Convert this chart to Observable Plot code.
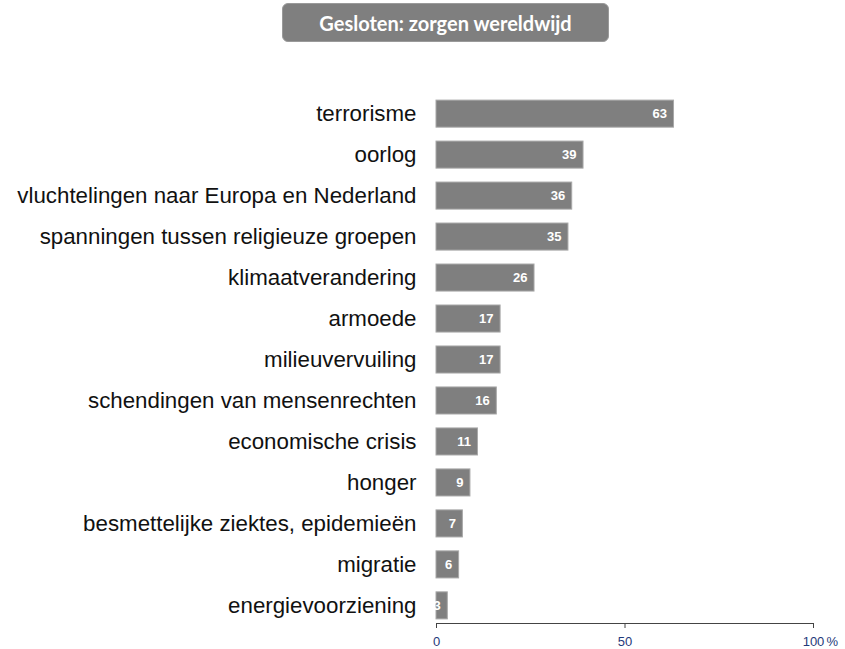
<!DOCTYPE html>
<html>
<head>
<meta charset="utf-8">
<script src="https://cdn.jsdelivr.net/npm/d3@7"></script>
<script src="https://cdn.jsdelivr.net/npm/@observablehq/plot@0.6"></script>
<style>
  html, body { margin: 0; padding: 0; background: #fff; }
  #wrap { position: relative; width: 845px; height: 649px; }
  #title {
    position: absolute; left: 282px; top: 3px; width: 327px; height: 39px;
    background: #7f7f7f; border: 1px solid #9a9a9a; border-radius: 6px; box-sizing: border-box;
    color: #fff; font: bold 20px Lato, "Open Sans", sans-serif;
    display: flex; align-items: center; justify-content: center;
  }
  #chart { position: absolute; left: 0; top: 0; }
</style>
</head>
<body>
<div id="wrap">
  <div id="chart"></div>
  <div id="title">Gesloten: zorgen wereldwijd</div>
</div>
<script>
const categories = [
  "terrorisme",
  "oorlog",
  "vluchtelingen naar Europa en Nederland",
  "spanningen tussen religieuze groepen",
  "klimaatverandering",
  "armoede",
  "milieuvervuiling",
  "schendingen van mensenrechten",
  "economische crisis",
  "honger",
  "besmettelijke ziektes, epidemieën",
  "migratie",
  "energievoorziening"
];
const values = [63, 39, 36, 35, 26, 17, 17, 16, 11, 9, 7, 6, 3];
const xTicks = [0, 50, 100];
const unitLabel = ["%"];

const data = categories.map((c, i) => ({category: c, value: values[i]}));

const chart = Plot.plot({
  width: 845,
  height: 649,
  marginLeft: 436,
  marginRight: 32,
  marginTop: 96,
  marginBottom: 26,
  style: {fontFamily: "Arial, 'Liberation Sans', sans-serif", background: "#fff"},
  x: {domain: [0, 100], axis: null, label: null},
  y: {domain: categories, paddingInner: 0.34, paddingOuter: 0.1, round: false, axis: null, label: null},
  marks: [
    Plot.barX(data, {y: "category", x: "value", fill: "#7f7f7f", stroke: "#a8a8a8", strokeWidth: 1}),
    Plot.text(data, {y: "category", x: "value", text: d => String(d.value), textAnchor: "end", dx: -7, fill: "#fff", fontWeight: "bold", fontSize: 13}),
    Plot.axisY({tickSize: 0, tickPadding: 20, fontSize: 22.3, fill: "#111", label: null}),
    Plot.frame({anchor: "bottom", stroke: "#444"}),
    Plot.axisX({ticks: xTicks, tickSize: 5, tickPadding: 8, fontSize: 13, stroke: "#444", fill: "#1f3a7a", tickFormat: d => String(d), label: null}),
    Plot.text(unitLabel, {x: () => 100, text: d => d, frameAnchor: "bottom", dy: 22, dx: 13, textAnchor: "start", fontSize: 13, fill: "#1f3a7a"})
  ]
});
document.getElementById("chart").appendChild(chart);
</script>
</body>
</html>
